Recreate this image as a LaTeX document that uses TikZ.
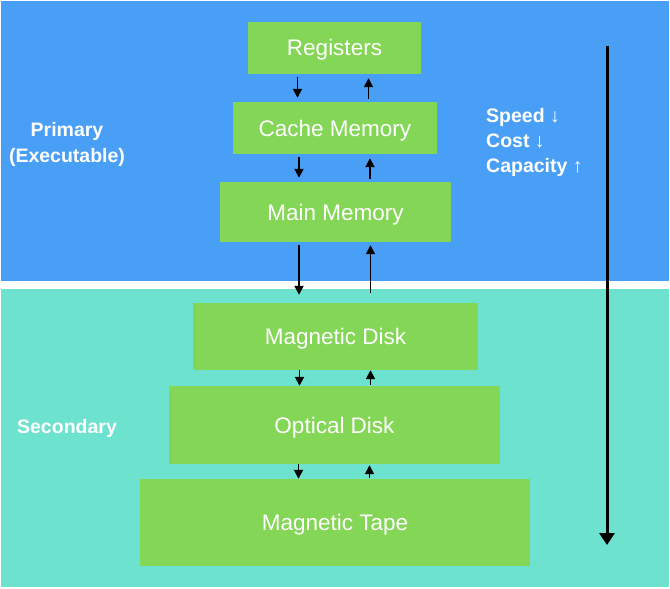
\documentclass[tikz,border=0pt]{standalone}
\usepackage{fontspec}
\setmainfont{Liberation Sans}
\usetikzlibrary{arrows.meta}
\definecolor{topblue}{RGB}{73,159,246}
\definecolor{botteal}{RGB}{108,226,207}
\definecolor{boxgreen}{RGB}{132,214,86}
\tikzset{
  memb/.style={fill=boxgreen, draw=none, text=white, font=\fontsize{22.5}{26}\selectfont, inner sep=0pt, text height=16pt, text depth=0pt},
  side/.style={text=white, font=\bfseries\fontsize{19.5}{26}\selectfont, inner sep=0pt, align=center},
  arr/.style={line width=1.8pt, -{Triangle[length=9pt,width=9pt]}},
  bigarr/.style={line width=3pt, -{Triangle[length=12pt,width=15pt]}}
}
\begin{document}
\begin{tikzpicture}[x=1pt,y=-1pt]
\useasboundingbox (0,0) rectangle (670,589);
\fill[white] (0,0) rectangle (670,589);
\fill[topblue] (1,1) rectangle (669,281);
\fill[botteal] (1,289) rectangle (669,587);
% boxes
\node[memb, minimum width=173pt, minimum height=52pt] (reg) at (334.5,48) {Registers};
\node[memb, minimum width=204pt, minimum height=52pt] (cache) at (335,128) {Cache Memory};
\node[memb, minimum width=231pt, minimum height=60pt] (main) at (335.5,212) {Main Memory};
\node[memb, minimum width=285pt, minimum height=67pt] (mdisk) at (335.5,336.5) {Magnetic Disk};
\node[memb, minimum width=331pt, minimum height=78pt] (odisk) at (334.5,425) {Optical Disk};
\node[memb, minimum width=390pt, minimum height=87pt] (tape) at (335,522.5) {Magnetic Tape};
% arrows
\draw[arr, shorten <=3pt, shorten >=4pt] ([xshift=-37pt]reg.south) -- ([xshift=-37pt]reg.south |- cache.north);
\draw[arr, shorten <=3pt, shorten >=4pt] ([xshift=34pt]reg.south |- cache.north) -- ([xshift=34pt]reg.south);
\draw[arr, shorten <=3pt, shorten >=4pt] ([xshift=-36pt]cache.south) -- ([xshift=-36pt]cache.south |- main.north);
\draw[arr, shorten <=3pt, shorten >=4pt] ([xshift=35pt]cache.south |- main.north) -- ([xshift=35pt]cache.south);
\draw[arr, shorten <=3pt, shorten >=8pt] ([xshift=-36.5pt]main.south) -- ([xshift=-36.5pt]main.south |- mdisk.north);
\draw[arr, shorten <=10pt, shorten >=3pt] ([xshift=35pt]main.south |- mdisk.north) -- ([xshift=35pt]main.south);
\draw[arr, shorten <=0pt, shorten >=0pt] ([xshift=-36pt]mdisk.south) -- ([xshift=-36pt]mdisk.south |- odisk.north);
\draw[arr, shorten <=1pt, shorten >=0pt] ([xshift=35pt]mdisk.south |- odisk.north) -- ([xshift=35pt]mdisk.south);
\draw[arr, shorten <=0pt, shorten >=0pt] ([xshift=-36pt]odisk.south) -- ([xshift=-36pt]odisk.south |- tape.north);
\draw[arr, shorten <=1pt, shorten >=1pt] ([xshift=35pt]odisk.south |- tape.north) -- ([xshift=35pt]odisk.south);
% big arrow
\coordinate (btop) at (607,46);
\coordinate (bbot) at (607,545);
\draw[bigarr] (btop) -- (bbot);
% side labels
\node[side] (prim) at (67,144) {Primary\\(Executable)};
\node[side] (sec) at (67,428) {Secondary};
\node[side, align=left, anchor=north west, font=\bfseries\fontsize{19.5}{25}\selectfont] (props) at (486,108.5) {Speed ↓\\Cost ↓\\Capacity ↑};
\end{tikzpicture}
\end{document}
